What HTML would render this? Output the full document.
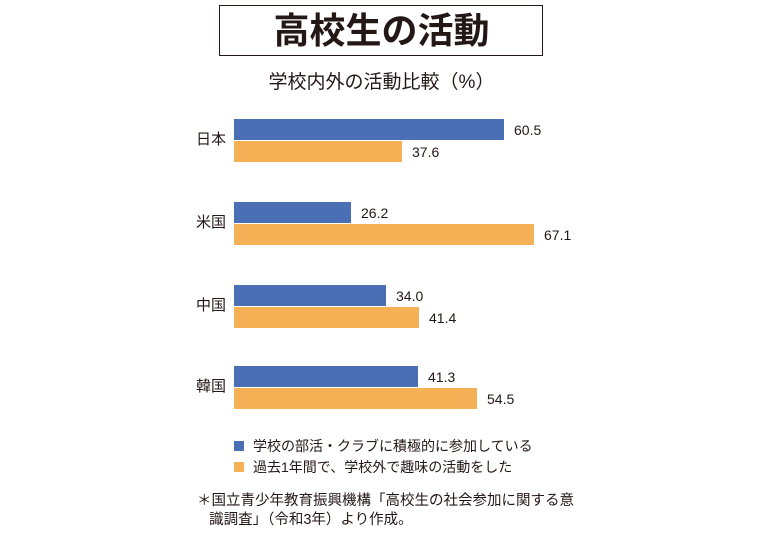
<!DOCTYPE html>
<html><head><meta charset="utf-8"><style>
body{margin:0;width:780px;height:540px;background:#fff;position:relative;font-family:"Liberation Sans","Noto Sans CJK JP",sans-serif;color:#231815;overflow:hidden}
.a{position:absolute;white-space:nowrap}
.b{position:absolute;left:234px;height:21px}
.bl{background:#4a6fb5}.or{background:#f6b055}
.v{position:absolute;font-size:14px;line-height:16px}
.c{position:absolute;left:196px;font-size:15px;line-height:16px}
</style></head><body>
<div class="a" style="left:219px;top:5px;width:322px;height:49px;border:1.5px solid #231815"></div>
<div class="a" style="left:219px;top:5px;width:325px;text-align:center;font-size:36px;font-weight:bold;line-height:52px">高校生の活動</div>
<div class="a" style="left:219px;top:71px;width:325px;text-align:center;font-size:19px;line-height:24px">学校内外の活動比較（%）</div>

<div class="c" style="top:132px">日本</div>
<div class="b bl" style="top:119px;width:270px"></div><div class="v" style="left:514px;top:122px">60.5</div>
<div class="b or" style="top:141px;width:168px"></div><div class="v" style="left:412px;top:144px">37.6</div>

<div class="c" style="top:215px">米国</div>
<div class="b bl" style="top:202px;width:117px"></div><div class="v" style="left:361px;top:205px">26.2</div>
<div class="b or" style="top:224px;width:300px"></div><div class="v" style="left:544px;top:227px">67.1</div>

<div class="c" style="top:298px">中国</div>
<div class="b bl" style="top:285px;width:152px"></div><div class="v" style="left:396px;top:288px">34.0</div>
<div class="b or" style="top:307px;width:185px"></div><div class="v" style="left:429px;top:310px">41.4</div>

<div class="c" style="top:379px">韓国</div>
<div class="b bl" style="top:366px;width:184px"></div><div class="v" style="left:428px;top:369px">41.3</div>
<div class="b or" style="top:388px;width:243px"></div><div class="v" style="left:487px;top:391px">54.5</div>

<div class="a bl" style="left:234px;top:441px;width:10px;height:10px"></div>
<div class="a" style="left:253px;top:437px;font-size:14px;line-height:18px">学校の部活・クラブに積極的に参加している</div>
<div class="a or" style="left:234px;top:462px;width:10px;height:10px"></div>
<div class="a" style="left:253px;top:458px;font-size:14px;line-height:18px">過去1年間で、学校外で趣味の活動をした</div>

<div class="a" style="left:197px;top:492px;font-size:14.5px;line-height:19px">＊国立青少年教育振興機構「高校生の社会参加に関する意<br>&nbsp;&nbsp;&nbsp;識調査」（令和3年）より作成。</div>
</body></html>
